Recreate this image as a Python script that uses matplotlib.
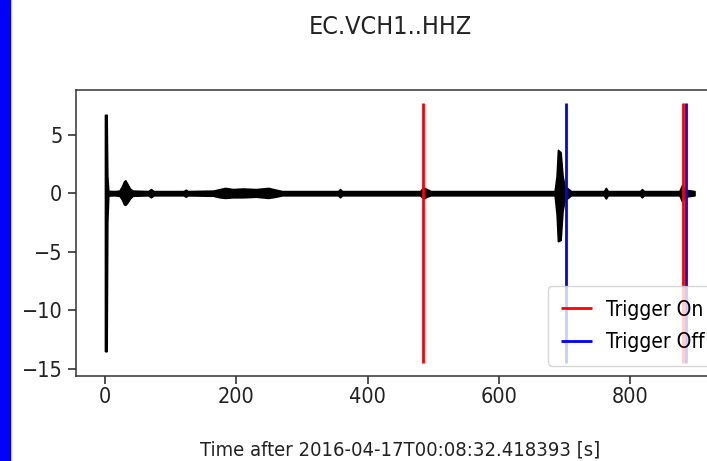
import matplotlib
matplotlib.use("Agg")
import matplotlib.pyplot as plt
from matplotlib.patches import Rectangle

plt.rcParams['font.family'] = ['DejaVu Sans']
plt.rcParams['font.stretch'] = 'condensed'

# Station / labels
station = "EC.VCH1..HHZ"
xlabel = "Time after 2016-04-17T00:08:32.418393 [s]"

# Trace envelope (time [s], upper, lower)
env_t = [0.0, 2.5, 3.5, 5, 15, 22, 26, 29, 31, 34, 38, 42, 66, 70, 74,
         120, 123, 126, 165, 175, 183, 195, 210, 230, 249, 260, 270,
         355, 358, 361, 480, 485, 490, 496, 685, 688, 690, 694, 697,
         700, 705, 710, 760, 763, 766, 815, 818, 821, 875, 879, 883, 898]
env_hi = [6.7, 6.7, 1.5, 0.2, 0.18, 0.22, 0.6, 1.0, 1.1, 0.8, 0.4, 0.22,
          0.18, 0.35, 0.18, 0.18, 0.3, 0.18, 0.22, 0.35, 0.45, 0.35, 0.4,
          0.35, 0.45, 0.3, 0.18, 0.18, 0.35, 0.18, 0.18, 0.5, 0.35, 0.18,
          0.18, 1.5, 3.7, 3.5, 1.5, 0.6, 0.4, 0.18, 0.18, 0.45, 0.18, 0.18,
          0.35, 0.18, 0.18, 0.7, 0.3, 0.18]
env_lo = [-13.5, -13.5, -2.5, -0.2, -0.18, -0.22, -0.55, -0.95, -1.0,
          -0.8, -0.45, -0.22, -0.18, -0.35, -0.18, -0.18, -0.3, -0.18,
          -0.22, -0.35, -0.4, -0.35, -0.35, -0.3, -0.4, -0.3, -0.18,
          -0.18, -0.35, -0.18, -0.18, -0.45, -0.3, -0.18, -0.18, -1.8,
          -4.1, -4.0, -1.5, -0.6, -0.4, -0.18, -0.18, -0.45, -0.18,
          -0.18, -0.35, -0.18, -0.18, -0.7, -0.3, -0.18]

# Trigger times [s]
trig_on = [485, 881]
trig_off = [702, 885]

fig = plt.figure(figsize=(7.07, 4.61), dpi=100)
ax = fig.add_axes([0.1068, 0.1844, 0.9172, 0.6204])

# blue strip at the left edge of the screenshot
fig.patches.append(Rectangle((0, 0), 9.5 / 707, 1, transform=fig.transFigure,
                             color='#0000ff', zorder=10))

ax.fill_between(env_t, env_lo, env_hi, color='k', lw=1.2, edgecolor='k')

ymin, ymax = ax.get_ylim()
ax.vlines(trig_on, ymin, ymax, color='r', lw=2, label="Trigger On")
ax.vlines(trig_off, ymin, ymax, color='b', lw=2, label="Trigger Off")

ax.set_xticks([0, 200, 400, 600, 800])
ax.set_yticks([-15, -10, -5, 0, 5])
ax.tick_params(labelsize=15.5, length=6, width=1.1, colors='#222222')
ax.tick_params(axis='x', pad=2)
for sp in ax.spines.values():
    sp.set_linewidth(1.1)
    sp.set_color('#333333')

ax.set_xlabel(xlabel, fontsize=14.5, labelpad=24, color='#222222')
ax.legend(loc='lower right', bbox_to_anchor=(1.007, 0), fontsize=15,
          handlelength=1.5, handletextpad=0.65, borderpad=0.65,
          labelspacing=0.6)

fig.text(390 / 707, 1 - 34 / 461, station, ha='center', va='baseline',
         fontsize=18, color='#222222')

fig.savefig('out.png', dpi=100)
